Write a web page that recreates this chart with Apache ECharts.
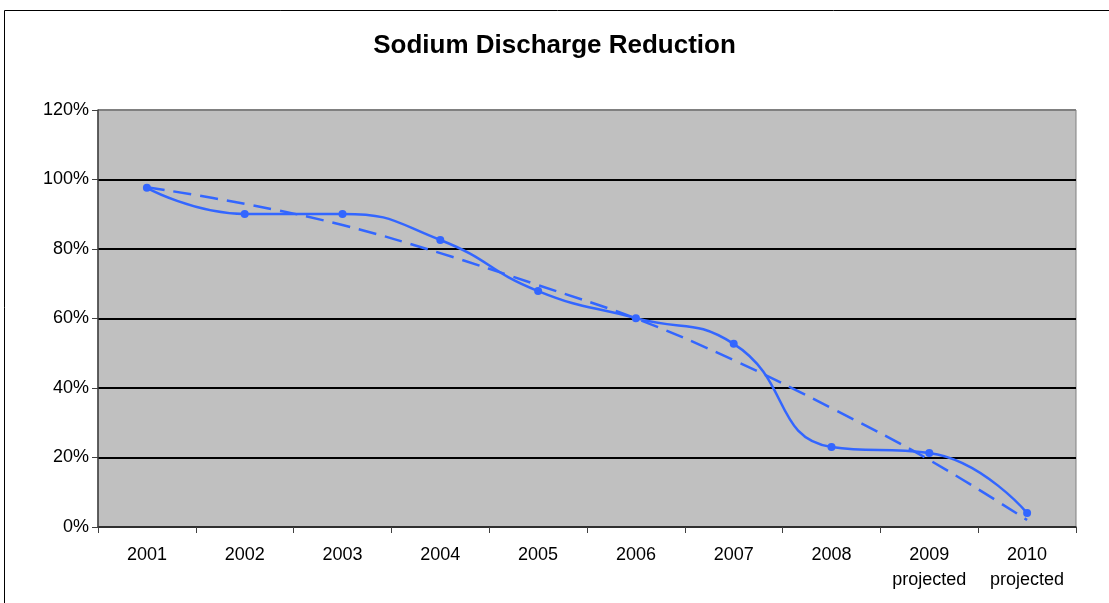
<!DOCTYPE html>
<html><head><meta charset="utf-8">
<script src="https://cdn.jsdelivr.net/npm/echarts@6/dist/echarts.min.js"></script>
<style>html,body{margin:0;padding:0;background:#fff}#c{width:1109px;height:603px}</style>
</head><body><div id="c"></div>
<script>
const categories = ['2001','2002','2003','2004','2005','2006','2007','2008','2009\nprojected','2010\nprojected'];
const reduction = [97.6, 90.1, 90.1, 82.6, 67.9, 60.1, 52.7, 23.0, 21.3, 4.0];
const trend = [97.8, 93.0, 86.9, 78.8, 69.6, 60.0, 48.0, 34.2, 19.3, 2.0];
const yTicks = [0, 20, 40, 60, 80, 100, 120];

const chart = echarts.init(document.getElementById('c'), null, {renderer:'canvas'});
const blue = '#3366FF';
const font = 'Liberation Sans, Arial, sans-serif';
chart.setOption({
  animation:false,
  backgroundColor:'#fff',
  title:{text:'Sodium Discharge Reduction', left:'center', top:28,
    textStyle:{fontFamily:font, fontSize:26, fontWeight:'bold', color:'#000'}},
  graphic:[{type:'rect', shape:{x:4.5,y:10.5,width:1200,height:700}, style:{fill:null, stroke:'#000', lineWidth:1}, silent:true, z:-1}],
  grid:{left:98, right:33, top:110, bottom:76, show:true, backgroundColor:'#C0C0C0', borderColor:'#808080', borderWidth:1},
  xAxis:{type:'category', data:categories, boundaryGap:true,
    axisLine:{lineStyle:{color:'#404040', width:1.5}},
    axisTick:{show:true, length:6, lineStyle:{color:'#404040'}},
    axisLabel:{fontFamily:font, fontSize:18, color:'#000', margin:16, lineHeight:25, interval:0},
    splitLine:{show:false}},
  yAxis:{type:'value', min:yTicks[0], max:yTicks[yTicks.length-1], interval:20,
    axisLine:{show:true, lineStyle:{color:'#404040', width:1.5}},
    axisTick:{show:true, length:6, lineStyle:{color:'#404040'}},
    axisLabel:{fontFamily:font, fontSize:18, color:'#000', margin:9, formatter:v=>v+'%'},
    splitLine:{show:true, lineStyle:{color:['#000','#000','#000','#000','#000','#000','#808080'], width:2}}},
  series:[
    {type:'line', data:trend, smooth:0.4, symbol:'none',
      lineStyle:{color:blue, width:2.5, type:[18,9]}, z:2},
    {type:'line', data:reduction, smooth:0.5, symbol:'circle', symbolSize:8,
      itemStyle:{color:blue}, lineStyle:{color:blue, width:2.5}, z:3}
  ]
});
</script></body></html>
